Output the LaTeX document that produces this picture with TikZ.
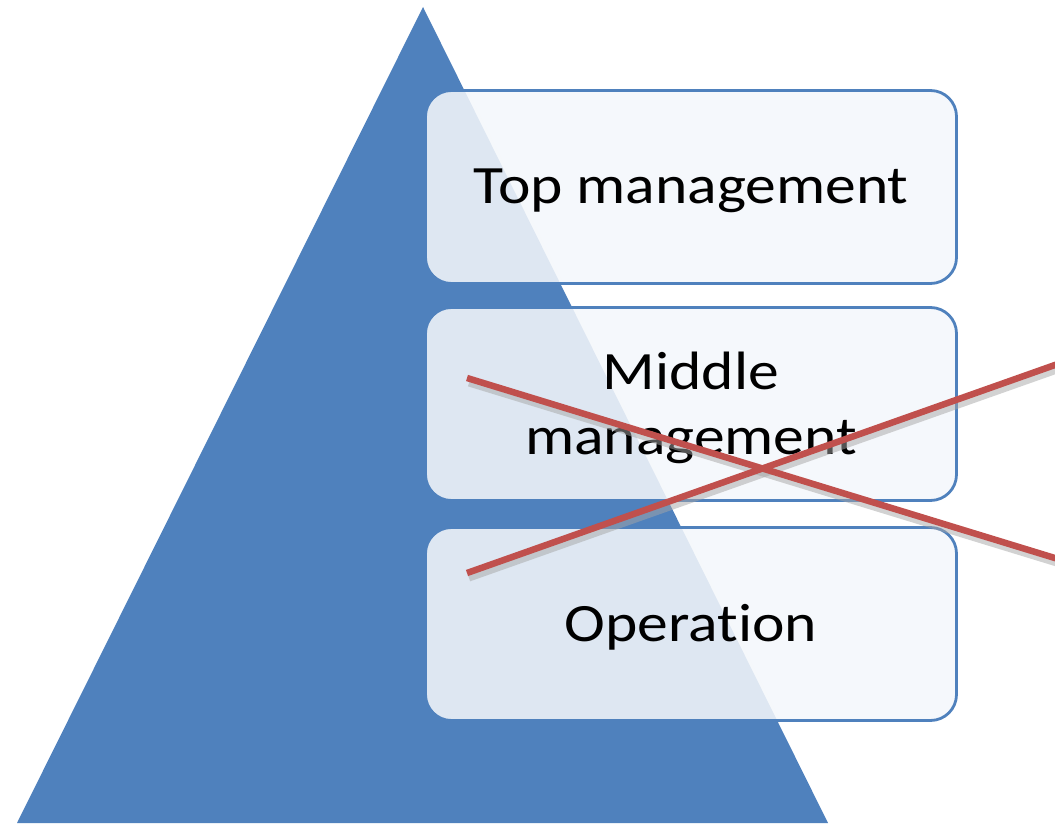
\documentclass[tikz,border=0pt]{standalone}
\usepackage{fontspec}
\setmainfont{Carlito}[Ligatures=NoCommon, FakeStretch=1.14]
\definecolor{triblue}{HTML}{4F81BD}
\definecolor{boxline}{HTML}{4F81BD}
\definecolor{boxfill}{HTML}{F4F7FB}
\definecolor{crossred}{HTML}{C0504D}
\begin{document}
\begin{tikzpicture}[x=1pt,y=-1pt,
  level/.style={draw=boxline, line width=2.8pt, fill=boxfill, fill opacity=0.87,
    rounded corners=26pt, minimum width=531pt, minimum height=193pt, inner sep=0pt},
  lbl/.style={align=center, inner sep=0pt, font=\fontsize{54}{65}\selectfont},
  cross/.style={crossred, line width=6.5pt},
  crossshadow/.style={black!35, line width=7pt, opacity=0.5}]
\useasboundingbox (0,0) rectangle (1055,826);
% triangle with white glow
\coordinate (apex) at (423,7);
\coordinate (bl) at (17,823);
\coordinate (br) at (828,823);
\draw[white, line width=6pt, line join=round, fill=triblue] (apex) -- (bl) -- (br) -- cycle;
\fill[triblue] (apex) -- (bl) -- (br) -- cycle;
% boxes
\node[level] (top) at (691,187) {};
\node[level] (mid) at (691,404) {};
\node[level] (op) at (691,624) {};
\node[lbl] (toptext) at ([yshift=-4pt]top.center) {Top management};
\node[lbl] (midtext) at ([yshift=-4pt]mid.center) {Middle\\management};
\node[lbl] (optext) at ([yshift=-3pt]op.center) {Operation};
% cross
\coordinate (a1) at (467,378);
\coordinate (a2) at (1060,559.6);
\coordinate (b1) at (467,573);
\coordinate (b2) at (1060,363.2);
\draw[crossshadow] ([shift={(2,5)}]a1) -- ([shift={(2,5)}]a2);
\draw[crossshadow] ([shift={(2,5)}]b1) -- ([shift={(2,5)}]b2);
\draw[cross] (a1) -- (a2);
\draw[cross] (b1) -- (b2);
\end{tikzpicture}
\end{document}
